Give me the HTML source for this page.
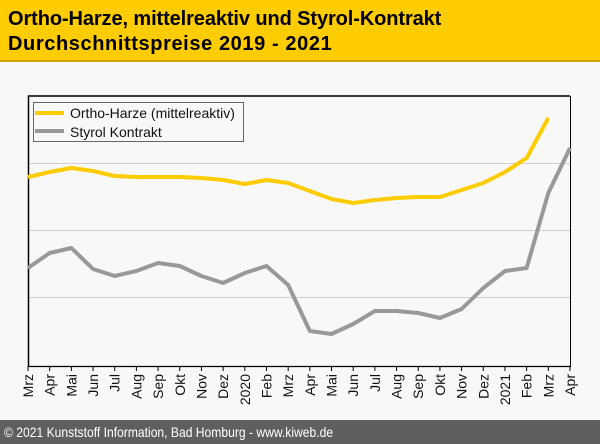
<!DOCTYPE html>
<html><head><meta charset="utf-8"><style>
body{margin:0;width:600px;height:444px;background:#f8f8f8;font-family:"Liberation Sans",sans-serif;overflow:hidden;position:relative}
.hd{position:absolute;left:0;top:0;width:600px;height:60px;background:#ffcc00;border-bottom:2px solid #d4a800}
.hd div{position:absolute;left:8px;font-weight:bold;font-size:20px;color:#000;white-space:nowrap}
.ft{position:absolute;left:0;top:420px;width:600px;height:24px;background:#5f5f62;color:#fff;font-size:14px;line-height:24px}
.ft span{position:absolute;left:4px;transform:scaleX(0.865);transform-origin:0 0;white-space:nowrap}
</style></head><body>
<div class="hd"><div style="top:8px;letter-spacing:-0.1px">Ortho-Harze, mittelreaktiv und Styrol-Kontrakt</div><div style="top:33px;letter-spacing:0.6px">Durchschnittspreise 2019 - 2021</div></div>
<svg width="600" height="444" style="position:absolute;left:0;top:0">
<g stroke="#d0d0d0" stroke-width="1"><line x1="29" y1="163.5" x2="570" y2="163.5"/><line x1="29" y1="230.5" x2="570" y2="230.5"/><line x1="29" y1="297.5" x2="570" y2="297.5"/></g>
<polyline fill="none" stroke="#000" stroke-width="1.5" points="28.5,366 28.5,96 570,96"/>
<line x1="28" y1="366.5" x2="571" y2="366.5" stroke="#000" stroke-width="1.2"/>
<line x1="570.5" y1="96" x2="570.5" y2="366" stroke="#000" stroke-width="1"/>
<g id="ticks" stroke="#000"></g>
<polyline fill="none" stroke="#999" stroke-width="4" stroke-linejoin="round" points="28,268 49.7,253 71.4,248 93,269 114.7,276 136.4,271 158.1,263 179.8,266 201.4,276 223.1,283 244.8,273 266.5,266 288.2,285 309.8,331 331.5,334 353.2,324 374.9,311 396.6,311 418.2,313 439.9,318 461.6,309 483.3,288 505,271 526.6,268 548.3,193 570,148"/>
<polyline fill="none" stroke="#ffcc00" stroke-width="4" stroke-linejoin="round" points="28,177 49.7,172 71.4,168 93,171 114.7,176 136.4,177 158.1,177 179.8,177 201.4,178 223.1,180 244.8,184 266.5,180 288.2,183 309.8,191 331.5,199 353.2,203 374.9,200 396.6,198 418.2,197 439.9,197 461.6,190 483.3,183 505,172 526.6,158 548.3,118"/>
<rect x="33.5" y="102.5" width="210" height="39" fill="#f8f8f8" stroke="#666"/>
<line x1="35" y1="113" x2="64" y2="113" stroke="#ffcc00" stroke-width="4"/>
<line x1="35" y1="131" x2="64" y2="131" stroke="#999" stroke-width="4"/>
<text x="70" y="118" font-size="14" fill="#111" font-family="Liberation Sans">Ortho-Harze (mittelreaktiv)</text>
<text x="70" y="137" font-size="14" fill="#111" font-family="Liberation Sans">Styrol Kontrakt</text>
<g id="lbl" font-size="14" font-family="Liberation Sans" fill="#111"></g>
</svg>
<div class="ft"><span>© 2021 Kunststoff Information, Bad Homburg - www.kiweb.de</span></div>
<script>
var m=["Mrz","Apr","Mai","Jun","Jul","Aug","Sep","Okt","Nov","Dez","2020","Feb","Mrz","Apr","Mai","Jun","Jul","Aug","Sep","Okt","Nov","Dez","2021","Feb","Mrz","Apr"];
var t=document.getElementById("ticks"),l=document.getElementById("lbl"),ns="http://www.w3.org/2000/svg";
m.forEach(function(s,i){var x=28+i*21.68;var ln=document.createElementNS(ns,"line");ln.setAttribute("x1",x);ln.setAttribute("x2",x);ln.setAttribute("y1",366);ln.setAttribute("y2",371);t.appendChild(ln);
var tx=document.createElementNS(ns,"text");tx.textContent=s;tx.setAttribute("text-anchor","end");tx.setAttribute("transform","translate("+(x+5)+",374) rotate(-90)");l.appendChild(tx);});
</script>
</body></html>
